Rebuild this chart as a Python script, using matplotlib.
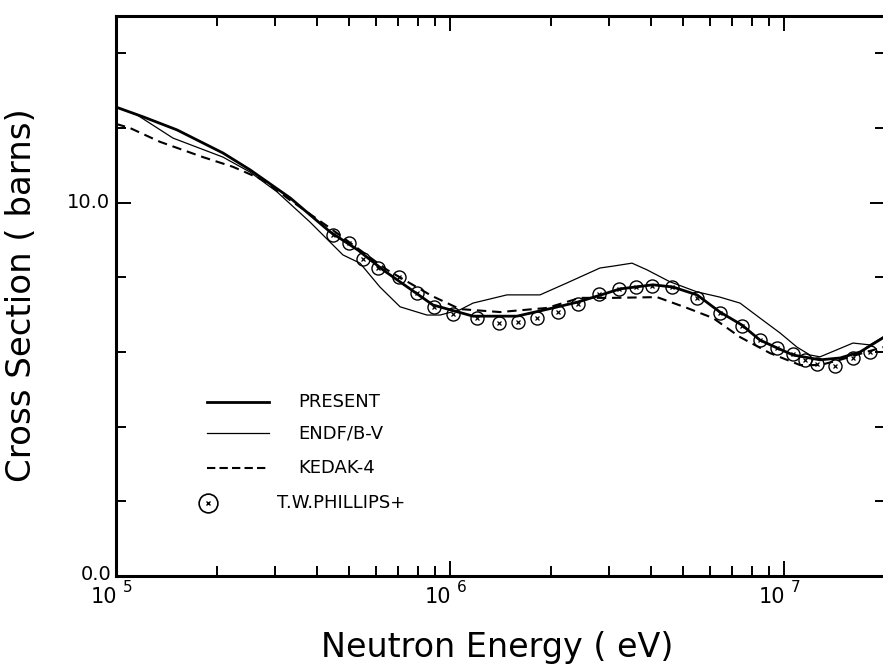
import matplotlib
matplotlib.use('Agg')
import matplotlib.pyplot as plt
from matplotlib.lines import Line2D
from matplotlib.ticker import LogLocator, NullFormatter, FixedLocator

plt.rcParams['font.family'] = ['DejaVu Sans']

# present evaluation (thick solid line)
present_e = [1.0e5, 1.205e5, 1.522e5, 2.091e5, 2.519e5, 3.319e5, 4.372e5, 5.303e5,
             6.30e5, 8.89e5, 1.172e6, 1.587e6, 2.034e6, 2.417e6, 2.812e6, 3.228e6,
             4.053e6, 4.653e6, 5.49e6, 6.43e6, 7.49e6, 8.47e6, 9.53e6, 1.064e7,
             1.282e7, 1.472e7, 1.689e7, 1.979e7]
present_xs = [12.56, 12.30, 11.95, 11.33, 10.88, 10.13, 9.22, 8.73,
              8.20, 7.26, 6.96, 6.96, 7.18, 7.34, 7.52, 7.69,
              7.80, 7.74, 7.53, 7.07, 6.72, 6.32, 6.11, 5.92,
              5.79, 5.84, 6.00, 6.38]

# ENDF/B-V (thin line)
endf_e = [1.0e5, 1.156e5, 1.481e5, 2.091e5, 2.519e5, 3.034e5, 3.81e5, 4.78e5,
          5.377e5, 6.17e5, 7.09e5, 8.53e5, 9.34e5, 1.071e6, 1.172e6, 1.481e6,
          1.86e6, 2.24e6, 2.812e6, 3.076e6, 3.507e6, 3.89e6, 4.557e6, 5.49e6,
          6.43e6, 7.385e6, 8.47e6, 9.73e6, 1.094e7, 1.196e7, 1.282e7, 1.609e7,
          1.809e7, 1.979e7]
endf_xs = [12.56, 12.35, 11.73, 11.22, 10.82, 10.29, 9.48, 8.60,
           8.38, 7.74, 7.21, 6.99, 6.99, 7.13, 7.31, 7.53,
           7.53, 7.85, 8.25, 8.30, 8.38, 8.20, 7.88, 7.61,
           7.47, 7.31, 6.91, 6.51, 6.13, 5.92, 5.87, 6.24,
           6.19, 6.40]

# KEDAK-4 (dashed line)
kedak_e = [1.0e5, 1.101e5, 1.354e5, 1.822e5, 2.24e5, 2.755e5, 3.319e5, 4.372e5,
           6.48e5, 8.834e5, 1.071e6, 1.411e6, 1.951e6, 2.45e6, 3.076e6, 4.166e6,
           5.124e6, 6.13e6, 7.385e6, 9.08e6, 1.117e7, 1.282e7, 1.472e7, 1.689e7,
           1.979e7]
kedak_xs = [12.11, 12.00, 11.63, 11.22, 10.96, 10.61, 10.07, 9.32,
            8.20, 7.50, 7.15, 7.07, 7.18, 7.45, 7.45, 7.47,
            7.18, 6.91, 6.40, 5.97, 5.65, 5.65, 5.79, 5.95,
            6.13]

# T.W. Phillips+ measurement
phil_e = [4.46e5, 4.99e5, 5.49e5, 6.09e5, 7.04e5, 7.96e5, 8.96e5, 1.021e6,
          1.204e6, 1.402e6, 1.598e6, 1.822e6, 2.106e6, 2.417e6, 2.793e6, 3.206e6,
          3.605e6, 4.025e6, 4.62e6, 5.49e6, 6.43e6, 7.49e6, 8.47e6, 9.53e6,
          1.064e7, 1.156e7, 1.256e7, 1.421e7, 1.609e7, 1.809e7]
phil_xs = [9.13, 8.92, 8.49, 8.25, 8.01, 7.58, 7.21, 7.02,
           6.91, 6.78, 6.80, 6.91, 7.07, 7.29, 7.55, 7.69,
           7.74, 7.77, 7.74, 7.45, 7.05, 6.70, 6.32, 6.11,
           5.95, 5.79, 5.68, 5.63, 5.84, 6.00]

legend_labels = ['PRESENT', 'ENDF/B-V', 'KEDAK-4', 'T.W.PHILLIPS+']

W, H = 883, 664
fig = plt.figure(figsize=(W / 100, H / 100), dpi=100)
ax = fig.add_axes([116 / W, 1 - 576 / H, (885.5 - 116) / W, (576 - 16) / H])


def fx(x):
    return x / W


def fy(y):
    return 1 - y / H


ax.plot(present_e, present_xs, color='black', lw=2.0, solid_joinstyle='round')
ax.plot(endf_e, endf_xs, color='black', lw=0.9)
ax.plot(kedak_e, kedak_xs, color='black', lw=1.5, dashes=(4.5, 2.8))
ax.plot(phil_e, phil_xs, ls='none', marker='o', ms=9.4, mfc='none',
        mec='black', mew=1.0, clip_on=False)
ax.plot(phil_e, phil_xs, ls='none', marker='x', ms=2.5, mec='black', mew=0.9)

ax.set_xscale('log')
ax.set_xlim(1e5, 10 ** (5 + (885.5 - 116) / 334.0))
ax.set_ylim(0, 15)

ax.xaxis.set_major_locator(FixedLocator([1e5, 1e6, 1e7]))
ax.xaxis.set_minor_locator(LogLocator(base=10, subs=range(2, 10)))
ax.xaxis.set_major_formatter(NullFormatter())
ax.xaxis.set_minor_formatter(NullFormatter())
ax.yaxis.set_major_locator(FixedLocator([0, 10]))
ax.yaxis.set_minor_locator(FixedLocator([2, 4, 6, 8, 12, 14]))
ax.yaxis.set_major_formatter(NullFormatter())

ax.tick_params(which='both', direction='in', top=True, right=True, width=1.4)
ax.tick_params(which='major', length=11)
ax.tick_params(which='minor', length=7)
for s in ax.spines.values():
    s.set_linewidth(2.2)

# tick labels drawn by hand to mimic the old plotter style
for e, ex in [(1e5, '5'), (1e6, '6'), (1e7, '7')]:
    ax.annotate('10', xy=(e, 0), xycoords=('data', 'axes fraction'),
                xytext=(1, -15), textcoords='offset points',
                ha='right', va='center', fontsize=15)
    ax.annotate(ex, xy=(e, 0), xycoords=('data', 'axes fraction'),
                xytext=(5, -8), textcoords='offset points',
                ha='left', va='center', fontsize=11)
fig.text(fx(110), fy(203), '10.0', ha='right', va='center', fontsize=14)
fig.text(fx(112), fy(575), '0.0', ha='right', va='center', fontsize=14)

fig.text(fx(497), fy(648), 'Neutron Energy ( eV)', ha='center', va='center',
         fontsize=24)
fig.text(fx(22), fy(295), 'Cross Section ( barns)', ha='center', va='center',
         rotation=90, fontsize=24.5)

# legend, laid out by hand
rows = [402, 433, 468, 503]
fig.add_artist(Line2D([fx(207), fx(269)], [fy(rows[0])] * 2, color='black', lw=2.0))
fig.add_artist(Line2D([fx(207), fx(269)], [fy(rows[1])] * 2, color='black', lw=0.9))
fig.add_artist(Line2D([fx(207), fx(269)], [fy(rows[2])] * 2, color='black', lw=1.5,
                      dashes=(4.0, 2.0)))
fig.add_artist(Line2D([fx(208)], [fy(rows[3])], ls='none', marker='o', ms=13.5,
                      mfc='none', mec='black', mew=1.2))
fig.add_artist(Line2D([fx(208)], [fy(rows[3])], ls='none', marker='x', ms=3,
                      mec='black', mew=1.0))
for i, lab in enumerate(legend_labels):
    x0 = 298 if i < 3 else 277
    fig.text(fx(x0), fy(rows[i]), lab, ha='left', va='center', fontsize=13)

fig.savefig('out.png', dpi=100)
